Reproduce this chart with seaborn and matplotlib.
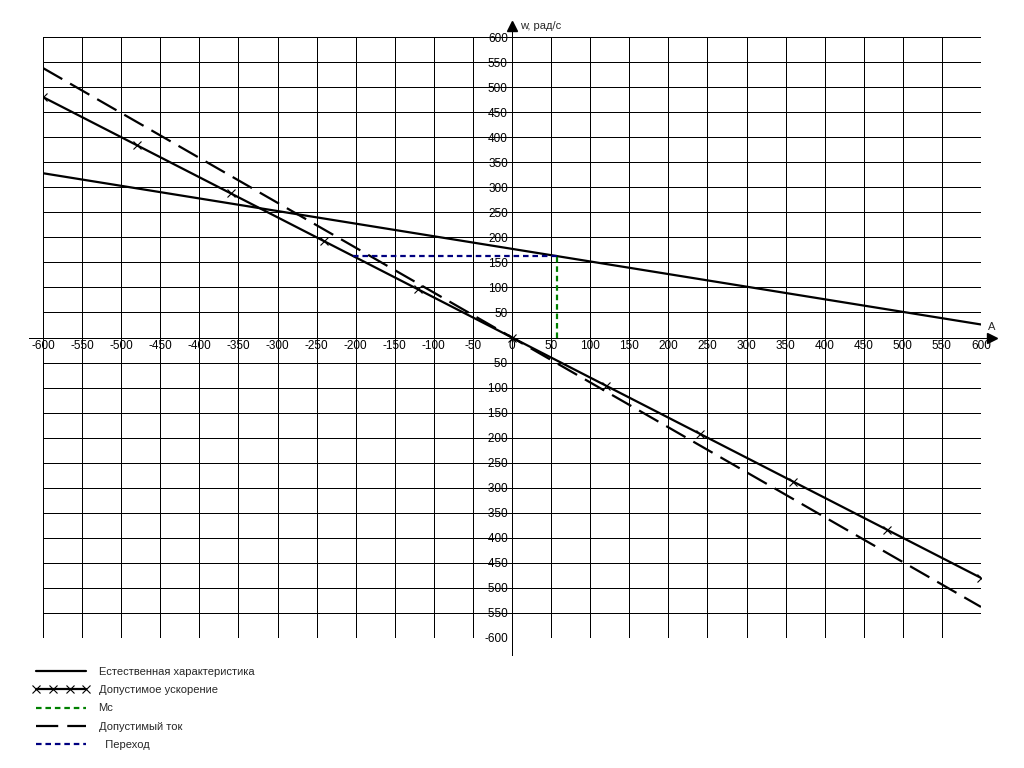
import matplotlib
matplotlib.use("Agg")
import matplotlib.pyplot as plt
import seaborn as sns

# естественная характеристика
m_nat = [-600, 600]
w_nat = [328, 26]
# допустимое ускорение (точки с маркерами)
m_acc = [-600, -480, -360, -240, -120, 0, 120, 240, 360, 480, 600]
w_acc = [480, 384, 288, 192, 96, 0, -96, -192, -288, -384, -480]
# допустимый ток
m_cur = [-600, 600]
w_cur = [538, -538]
# Мс
m_mc = [57, 57]
w_mc = [0, 163]
# переход
m_tr = [-204, 57]
w_tr = [163, 163]

ticks = list(range(-600, 601, 50))
xlabels = [str(t) for t in ticks]
ylabels = ["" if t == 0 else str(t) for t in ticks]

sns.set_theme(style="white")
plt.rcParams['font.family'] = ['Liberation Sans', 'DejaVu Sans']
plt.rcParams['lines.scale_dashes'] = False

fig = plt.figure(figsize=(10.24, 7.68), dpi=100)
ax = fig.add_axes([43/1024, 1 - 638/768, 938/1024, 601/768])
ax.set_xlim(-600, 600)
ax.set_ylim(-600, 600)

sns.lineplot(x=m_nat, y=w_nat, ax=ax, color="black", lw=1.6, estimator=None,
             label="Естественная характеристика")
sns.lineplot(x=m_acc, y=w_acc, ax=ax, color="black", lw=1.6, marker="x",
             markersize=6, markeredgewidth=0.8, markeredgecolor="black",
             estimator=None, label="Допустимое ускорение")
sns.lineplot(x=m_mc, y=w_mc, ax=ax, color="#008000", lw=1.6, sort=False,
             estimator=None, linestyle=(0, (4, 2.8)), label="Мс")
sns.lineplot(x=m_cur, y=w_cur, ax=ax, color="black", lw=1.6, estimator=None,
             linestyle=(0, (16, 6.5)), label="Допустимый ток")
sns.lineplot(x=m_tr, y=w_tr, ax=ax, color="#000080", lw=1.6, estimator=None,
             linestyle=(0, (4, 2.8)), label="  Переход")

# оси
ax.plot([-618, 619], [0, 0], color="black", lw=0.72, clip_on=False,
        antialiased=False)
ax.plot([0, 0], [-634, 630], color="black", lw=0.72, clip_on=False,
        antialiased=False)
ax.plot([0], [621], marker="^", color="black", markersize=7, clip_on=False)
ax.plot([614], [0], marker=">", color="black", markersize=7, clip_on=False)
ax.text(10, 621, "w, рад/с", fontsize=8, va="center", ha="left")
ax.text(609, 20, "A", fontsize=8, va="center", ha="left")

for s in ax.spines.values():
    s.set_visible(False)
ax.spines['left'].set_position(('data', 0))
ax.spines['bottom'].set_position(('data', 0))

ax.set_xticks(ticks)
ax.set_xticklabels(xlabels)
ax.set_yticks(ticks)
ax.set_yticklabels(ylabels)
ax.tick_params(axis="both", length=0, labelsize=8.5, colors="black")
ax.tick_params(axis="x", pad=2)
ax.tick_params(axis="y", pad=3)
ax.grid(True, color="black", lw=0.72, antialiased=False)
ax.set_axisbelow(True)

ax.legend(loc="upper left", bbox_to_anchor=(33/1024, 1 - 667/768),
          bbox_transform=fig.transFigure, frameon=False, fontsize=8,
          handlelength=5.1, handletextpad=0.8, borderpad=0, borderaxespad=0,
          labelspacing=0.74, numpoints=4)

fig.savefig("out.png", dpi=100)
